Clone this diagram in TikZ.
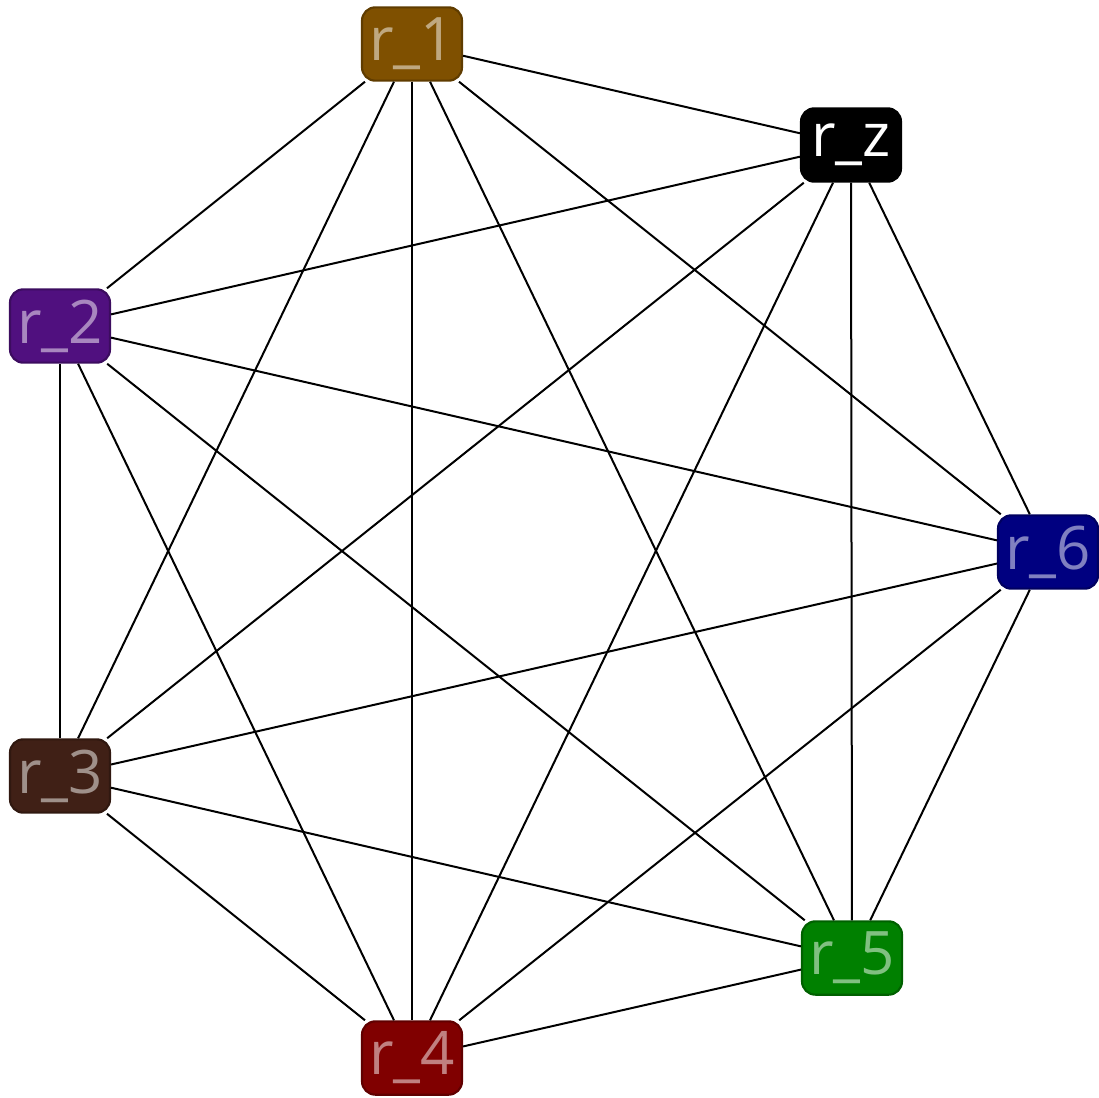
\documentclass[tikz,border=0pt]{standalone}
\usepackage{fontspec}
\setmainfont{Open Sans}
\definecolor{c1}{RGB}{127,80,0}
\definecolor{cz}{RGB}{0,0,0}
\definecolor{c6}{RGB}{0,0,128}
\definecolor{c5}{RGB}{0,128,0}
\definecolor{c4}{RGB}{128,0,0}
\definecolor{c2}{RGB}{80,16,127}
\definecolor{c3}{RGB}{64,32,22}
\tikzset{
  rnode/.style={draw=#1!75!black, fill=#1, text=#1!50!white, line width=1.6pt,
    rounded corners=10pt, minimum width=75pt, minimum height=55pt, inner sep=0pt,
    font=\fontsize{45}{50}\selectfont},
  edge/.style={line width=1.5pt, black}
}
\begin{document}
\begin{tikzpicture}[x=0.75pt,y=-0.75pt]
\useasboundingbox (0,0) rectangle (1099,1097);
\node[rnode=c1] (r1) at (412,44) {r\_1};
\node[rnode=cz, text=white] (rz) at (851,145) {r\_z};
\node[rnode=c6] (r6) at (1048,552) {r\_6};
\node[rnode=c5] (r5) at (852,958) {r\_5};
\node[rnode=c4] (r4) at (412,1058) {r\_4};
\node[rnode=c2] (r2) at (60,326) {r\_2};
\node[rnode=c3] (r3) at (60,776) {r\_3};
\foreach \a/\b in {r1/rz,r1/r6,r1/r5,r1/r4,r1/r3,r1/r2,
  rz/r6,rz/r5,rz/r4,rz/r3,rz/r2,
  r6/r5,r6/r4,r6/r3,r6/r2,
  r5/r4,r5/r3,r5/r2,
  r4/r3,r4/r2,
  r3/r2}
  \draw[edge] (\a) -- (\b);
\end{tikzpicture}
\end{document}
